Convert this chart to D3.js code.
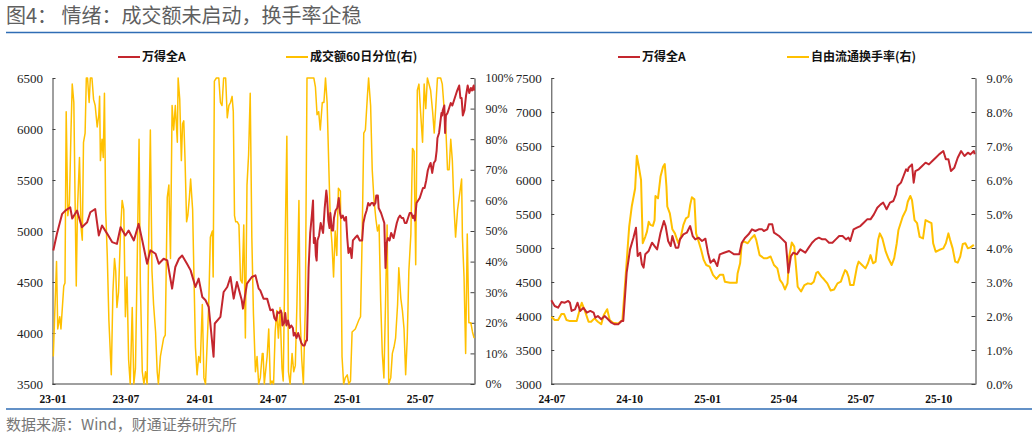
<!doctype html>
<html lang="zh">

<head>
  <meta charset="utf-8">
  <title>图4 情绪：成交额未启动，换手率企稳</title>
  <style>
    body { margin: 0; background: #fff; }
    .cjk { font-family: "Noto Sans CJK SC", "Noto Sans", sans-serif; }
  </style>
</head>

<body>
  <div id="chart"></div>
  <script src="https://cdn.jsdelivr.net/npm/d3@7"></script>
  <script>
    // Data ----------------------------------------------------------------------------------------------------------
    // 万得全A (shared by both panels)
    const wdqaData = [
      ["2023-01-03", 4809], ["2023-01-12", 4973], ["2023-01-25", 5168], ["2023-02-02", 5200], ["2023-02-14", 5233],
      ["2023-02-19", 5122], ["2023-03-03", 5200], ["2023-03-15", 5037], ["2023-03-28", 5086], ["2023-04-05", 5184],
      ["2023-04-17", 5216], ["2023-04-26", 4956], ["2023-05-04", 5054], ["2023-05-17", 4972], ["2023-05-29", 4891],
      ["2023-06-10", 4874], ["2023-06-19", 5037], ["2023-07-01", 4956], ["2023-07-09", 5005], ["2023-07-22", 4907],
      ["2023-08-03", 5070], ["2023-08-12", 4907], ["2023-08-24", 4679], ["2023-09-01", 4810], ["2023-09-14", 4777],
      ["2023-09-22", 4679], ["2023-10-04", 4728], ["2023-10-13", 4712], ["2023-10-25", 4435], ["2023-11-02", 4647],
      ["2023-11-11", 4728], ["2023-11-19", 4760], ["2023-12-01", 4679], ["2023-12-10", 4614], ["2023-12-22", 4451],
      ["2023-12-30", 4533], ["2024-01-08", 4353], ["2024-01-16", 4321], ["2024-01-24", 4255], ["2024-02-05", 3767],
      ["2024-02-08", 4093], ["2024-02-22", 4158], ["2024-03-01", 4402], ["2024-03-10", 4451], ["2024-03-18", 4549],
      ["2024-03-26", 4337], ["2024-04-03", 4500], ["2024-04-15", 4321], ["2024-04-18", 4239], ["2024-04-28", 4484],
      ["2024-05-10", 4549], ["2024-05-19", 4565], ["2024-05-27", 4435], ["2024-05-31", 4418], ["2024-06-08", 4337],
      ["2024-06-17", 4337], ["2024-06-25", 4223],
      ["2024-07-01", 4230], ["2024-07-05", 4147], ["2024-07-09", 4122], ["2024-07-13", 4206], ["2024-07-17", 4196],
      ["2024-07-21", 4221], ["2024-07-23", 4196], ["2024-07-25", 4074], ["2024-07-29", 4098], ["2024-08-01", 4196],
      ["2024-08-04", 4074], ["2024-08-08", 4122], ["2024-08-12", 4049], ["2024-08-16", 4074], ["2024-08-20", 4049],
      ["2024-08-22", 3975], ["2024-08-25", 4000], ["2024-08-29", 3951], ["2024-09-02", 4000], ["2024-09-06", 3951],
      ["2024-09-10", 3902], ["2024-09-14", 3877], ["2024-09-18", 3877], ["2024-09-22", 3926], ["2024-09-24", 3926],
      ["2024-09-28", 4637], ["2024-10-02", 4980], ["2024-10-06", 5152], ["2024-10-09", 5299], ["2024-10-11", 4882],
      ["2024-10-14", 4931], ["2024-10-16", 4760], ["2024-10-18", 4711], ["2024-10-20", 4907], ["2024-10-24", 4956],
      ["2024-10-28", 5078], ["2024-10-31", 5029], ["2024-11-03", 4980], ["2024-11-07", 5225], ["2024-11-11", 5397],
      ["2024-11-13", 5323], ["2024-11-16", 5103], ["2024-11-19", 5029], ["2024-11-21", 5176], ["2024-11-25", 5005],
      ["2024-11-28", 5005], ["2024-11-30", 5127], ["2024-12-04", 5201], ["2024-12-08", 5225], ["2024-12-12", 5323],
      ["2024-12-15", 5176], ["2024-12-18", 5127], ["2024-12-22", 5152], ["2024-12-26", 5103], ["2024-12-30", 5137],
      ["2025-01-02", 4931], ["2025-01-05", 4784], ["2025-01-09", 4833], ["2025-01-13", 4735], ["2025-01-16", 4907],
      ["2025-01-21", 4931], ["2025-01-27", 4956], ["2025-02-02", 4907], ["2025-02-08", 4907], ["2025-02-11", 5078],
      ["2025-02-15", 5152], ["2025-02-19", 5201], ["2025-02-23", 5274], ["2025-02-27", 5250], ["2025-03-03", 5274],
      ["2025-03-07", 5274], ["2025-03-09", 5250], ["2025-03-13", 5274], ["2025-03-15", 5348], ["2025-03-19", 5348],
      ["2025-03-21", 5225], ["2025-03-27", 5176], ["2025-03-31", 5127], ["2025-04-04", 5078], ["2025-04-07", 4637],
      ["2025-04-10", 4882], ["2025-04-13", 4931], ["2025-04-17", 4907], ["2025-04-21", 4980], ["2025-04-27", 4931],
      ["2025-05-01", 5005], ["2025-05-05", 5078], ["2025-05-09", 5127], ["2025-05-13", 5152], ["2025-05-17", 5127],
      ["2025-05-21", 5127], ["2025-05-25", 5078], ["2025-05-29", 5078], ["2025-06-02", 5127], ["2025-06-06", 5176],
      ["2025-06-10", 5176], ["2025-06-14", 5127], ["2025-06-17", 5152], ["2025-06-19", 5103], ["2025-06-23", 5274],
      ["2025-06-27", 5299], ["2025-07-01", 5323], ["2025-07-05", 5372], ["2025-07-09", 5421], ["2025-07-13", 5421],
      ["2025-07-17", 5495], ["2025-07-21", 5593], ["2025-07-25", 5642], ["2025-07-28", 5667], ["2025-08-01", 5569],
      ["2025-08-05", 5667], ["2025-08-09", 5691], ["2025-08-12", 5789], ["2025-08-14", 5912], ["2025-08-18", 5961],
      ["2025-08-21", 6059], ["2025-08-24", 6157], ["2025-08-26", 6132], ["2025-08-27", 6181], ["2025-08-31", 6230],
      ["2025-09-02", 5961], ["2025-09-04", 6132], ["2025-09-08", 6157], ["2025-09-12", 6206], ["2025-09-16", 6255],
      ["2025-09-20", 6230], ["2025-09-24", 6279], ["2025-09-28", 6328], ["2025-10-02", 6377], ["2025-10-07", 6426],
      ["2025-10-10", 6304], ["2025-10-13", 6304], ["2025-10-16", 6132], ["2025-10-20", 6181], ["2025-10-24", 6328],
      ["2025-10-28", 6426], ["2025-11-01", 6353], ["2025-11-05", 6402], ["2025-11-08", 6377], ["2025-11-12", 6426],
      ["2025-11-13", 6377]
    ];

    // 成交额60日分位 (%)
    const amountPctData = [
      ["2023-01-03", 9], ["2023-01-11", 40], ["2023-01-14", 18], ["2023-01-19", 22], ["2023-01-22", 18],
      ["2023-01-29", 32], ["2023-02-01", 33], ["2023-02-04", 89], ["2023-02-08", 55], ["2023-02-12", 59],
      ["2023-02-16", 83], ["2023-02-19", 98], ["2023-02-23", 92], ["2023-02-26", 61], ["2023-03-01", 32],
      ["2023-03-04", 57], ["2023-03-09", 74], ["2023-03-13", 51], ["2023-03-16", 47], ["2023-03-19", 79],
      ["2023-03-23", 82], ["2023-03-26", 100], ["2023-03-29", 100], ["2023-04-02", 92], ["2023-04-05", 100],
      ["2023-04-09", 100], ["2023-04-13", 93], ["2023-04-17", 91], ["2023-04-22", 84], ["2023-04-26", 88],
      ["2023-04-28", 94], ["2023-04-30", 73], ["2023-05-04", 80], ["2023-05-07", 74], ["2023-05-10", 95],
      ["2023-05-13", 57], ["2023-05-17", 42], ["2023-05-21", 21], ["2023-05-25", 9], ["2023-05-27", 3],
      ["2023-05-31", 30], ["2023-06-04", 41], ["2023-06-07", 37], ["2023-06-10", 25], ["2023-06-14", 30],
      ["2023-06-19", 50], ["2023-06-23", 60], ["2023-06-27", 57], ["2023-07-01", 22], ["2023-07-05", 35],
      ["2023-07-09", 8], ["2023-07-13", 0], ["2023-07-18", 25], ["2023-07-22", 0], ["2023-07-26", 5],
      ["2023-07-30", 37], ["2023-08-04", 80], ["2023-08-07", 34], ["2023-08-12", 4], ["2023-08-16", 0],
      ["2023-08-20", 4], ["2023-08-24", 0], ["2023-08-28", 48], ["2023-09-01", 83], ["2023-09-05", 37],
      ["2023-09-09", 26], ["2023-09-14", 17], ["2023-09-18", 4], ["2023-09-21", 0], ["2023-09-26", 9],
      ["2023-10-04", 15], ["2023-10-08", 16], ["2023-10-13", 61], ["2023-10-17", 65], ["2023-10-21", 41],
      ["2023-10-25", 91], ["2023-10-29", 83], ["2023-11-02", 91], ["2023-11-07", 79], ["2023-11-09", 100],
      ["2023-11-13", 93], ["2023-11-17", 73], ["2023-11-20", 85], ["2023-11-23", 86], ["2023-11-26", 74],
      ["2023-11-30", 53], ["2023-12-03", 55], ["2023-12-07", 61], ["2023-12-10", 67], ["2023-12-15", 57],
      ["2023-12-18", 37], ["2023-12-22", 12], ["2023-12-26", 3], ["2023-12-30", 9], ["2024-01-03", 7],
      ["2024-01-08", 26], ["2024-01-12", 2], ["2024-01-16", 0], ["2024-01-20", 13], ["2024-01-24", 26],
      ["2024-01-28", 48], ["2024-02-02", 50], ["2024-02-04", 35], ["2024-02-07", 99], ["2024-02-12", 100],
      ["2024-02-18", 100], ["2024-02-22", 92], ["2024-02-26", 91], ["2024-03-01", 100], ["2024-03-06", 100],
      ["2024-03-10", 87], ["2024-03-14", 91], ["2024-03-18", 92], ["2024-03-22", 94], ["2024-03-25", 89],
      ["2024-03-28", 55], ["2024-03-31", 53], ["2024-04-04", 53], ["2024-04-08", 52], ["2024-04-12", 34],
      ["2024-04-16", 33], ["2024-04-20", 52], ["2024-04-24", 15], ["2024-04-28", 65], ["2024-05-02", 75],
      ["2024-05-06", 95], ["2024-05-10", 48], ["2024-05-14", 23], ["2024-05-19", 4], ["2024-05-23", 9],
      ["2024-05-27", 0], ["2024-05-31", 2], ["2024-06-05", 10], ["2024-06-07", 10], ["2024-06-10", 0],
      ["2024-06-17", 9], ["2024-06-21", 18], ["2024-06-25", 0], ["2024-06-29", 1], ["2024-07-03", 0],
      ["2024-07-07", 17], ["2024-07-11", 24], ["2024-07-15", 15], ["2024-07-19", 25], ["2024-07-24", 5],
      ["2024-07-27", 1], ["2024-08-01", 48], ["2024-08-05", 81], ["2024-08-09", 4], ["2024-08-13", 0],
      ["2024-08-18", 10], ["2024-08-22", 4], ["2024-08-26", 6], ["2024-08-30", 26], ["2024-09-04", 60],
      ["2024-09-07", 22], ["2024-09-11", 8], ["2024-09-15", 0], ["2024-09-20", 26], ["2024-09-24", 100],
      ["2024-10-02", 100], ["2024-10-11", 100], ["2024-10-15", 97], ["2024-10-19", 88], ["2024-10-23", 89],
      ["2024-10-27", 83], ["2024-11-01", 92], ["2024-11-05", 92], ["2024-11-09", 100], ["2024-11-13", 92],
      ["2024-11-17", 72], ["2024-11-21", 53], ["2024-11-25", 46], ["2024-11-29", 35], ["2024-12-03", 50],
      ["2024-12-07", 42], ["2024-12-11", 64], ["2024-12-16", 63], ["2024-12-20", 9], ["2024-12-24", 0],
      ["2024-12-28", 2], ["2025-01-02", 3], ["2025-01-06", 0], ["2025-01-10", 1], ["2025-01-14", 17],
      ["2025-01-22", 18], ["2025-01-31", 21], ["2025-02-04", 22], ["2025-02-08", 48], ["2025-02-12", 82],
      ["2025-02-16", 83], ["2025-02-21", 94], ["2025-02-24", 100], ["2025-03-01", 91], ["2025-03-05", 70],
      ["2025-03-09", 61], ["2025-03-14", 54], ["2025-03-18", 50], ["2025-03-22", 52], ["2025-03-26", 27],
      ["2025-03-30", 10], ["2025-04-03", 2], ["2025-04-07", 26], ["2025-04-11", 52], ["2025-04-15", 0],
      ["2025-04-20", 2], ["2025-04-24", 10], ["2025-04-28", 12], ["2025-05-02", 15], ["2025-05-07", 26],
      ["2025-05-10", 38], ["2025-05-15", 28], ["2025-05-19", 24], ["2025-05-23", 18], ["2025-05-27", 3],
      ["2025-05-31", 15], ["2025-06-04", 37], ["2025-06-09", 49], ["2025-06-13", 77], ["2025-06-17", 76],
      ["2025-06-21", 39], ["2025-06-25", 96], ["2025-06-29", 98], ["2025-07-03", 89], ["2025-07-08", 79],
      ["2025-07-12", 98], ["2025-07-16", 90], ["2025-07-20", 100], ["2025-07-24", 98], ["2025-07-28", 96],
      ["2025-08-02", 89], ["2025-08-06", 82], ["2025-08-10", 91], ["2025-08-14", 100], ["2025-08-22", 100],
      ["2025-08-26", 98], ["2025-08-30", 91], ["2025-09-04", 83], ["2025-09-08", 70], ["2025-09-12", 70],
      ["2025-09-16", 80], ["2025-09-20", 73], ["2025-09-24", 58], ["2025-09-28", 48], ["2025-10-03", 57],
      ["2025-10-07", 61], ["2025-10-13", 67], ["2025-10-15", 48], ["2025-10-19", 35], ["2025-10-23", 10],
      ["2025-10-27", 49], ["2025-10-31", 20], ["2025-11-05", 20], ["2025-11-09", 17], ["2025-11-13", 15]
    ];

    // 自由流通换手率 (%)
    const freeTurnoverData = [
      ["2024-07-01", 1.98], ["2024-07-05", 1.88], ["2024-07-09", 1.88], ["2024-07-13", 2.06], ["2024-07-16", 2.06],
      ["2024-07-19", 1.88], ["2024-07-23", 1.85], ["2024-07-31", 1.85], ["2024-08-04", 2.23], ["2024-08-06", 2.39],
      ["2024-08-10", 2.13], ["2024-08-14", 1.83], ["2024-08-17", 1.83], ["2024-08-21", 1.93], ["2024-08-25", 1.83],
      ["2024-08-29", 1.76], ["2024-09-01", 2.03], ["2024-09-05", 2.20], ["2024-09-08", 1.88], ["2024-09-12", 1.80],
      ["2024-09-18", 1.78], ["2024-09-23", 1.88], ["2024-09-27", 3.25], ["2024-10-01", 4.63], ["2024-10-04", 5.22],
      ["2024-10-08", 5.75], ["2024-10-10", 6.71], ["2024-10-12", 6.44], ["2024-10-15", 6.00], ["2024-10-17", 4.14],
      ["2024-10-20", 4.33], ["2024-10-22", 4.48], ["2024-10-24", 4.77], ["2024-10-26", 4.68], ["2024-10-29", 4.65],
      ["2024-10-31", 4.82], ["2024-11-01", 5.53], ["2024-11-04", 5.46], ["2024-11-07", 6.10], ["2024-11-10", 6.39],
      ["2024-11-12", 6.47], ["2024-11-14", 5.80], ["2024-11-15", 5.22], ["2024-11-18", 5.02], ["2024-11-21", 4.55],
      ["2024-11-24", 4.43], ["2024-11-28", 4.14], ["2024-12-01", 4.33], ["2024-12-04", 4.68], ["2024-12-07", 4.87],
      ["2024-12-10", 4.92], ["2024-12-12", 5.26], ["2024-12-14", 5.49], ["2024-12-17", 5.43], ["2024-12-19", 4.43],
      ["2024-12-22", 4.19], ["2024-12-25", 3.94], ["2024-12-28", 3.65], ["2024-12-31", 3.50], ["2025-01-04", 3.45],
      ["2025-01-08", 3.21], ["2025-01-12", 3.09], ["2025-01-16", 3.21], ["2025-01-20", 3.21], ["2025-01-22", 3.01],
      ["2025-01-28", 2.98], ["2025-02-05", 2.98], ["2025-02-06", 3.25], ["2025-02-09", 3.55], ["2025-02-11", 4.14],
      ["2025-02-14", 4.19], ["2025-02-18", 4.14], ["2025-02-22", 4.28], ["2025-02-26", 4.38], ["2025-02-28", 4.24],
      ["2025-03-04", 3.79], ["2025-03-09", 3.70], ["2025-03-13", 3.70], ["2025-03-17", 3.75], ["2025-03-21", 3.50],
      ["2025-03-25", 3.40], ["2025-03-28", 3.06], ["2025-03-31", 2.96], ["2025-04-03", 2.78], ["2025-04-06", 2.96],
      ["2025-04-08", 3.75], ["2025-04-11", 4.16], ["2025-04-14", 4.04], ["2025-04-16", 3.45], ["2025-04-18", 2.86],
      ["2025-04-22", 2.72], ["2025-04-26", 2.91], ["2025-04-30", 2.96], ["2025-05-04", 2.94], ["2025-05-07", 3.01],
      ["2025-05-10", 3.27], ["2025-05-12", 3.30], ["2025-05-16", 3.16], ["2025-05-19", 3.08], ["2025-05-23", 2.96],
      ["2025-05-27", 2.75], ["2025-05-31", 2.78], ["2025-06-04", 2.96], ["2025-06-08", 3.01], ["2025-06-10", 3.16],
      ["2025-06-13", 3.35], ["2025-06-15", 3.30], ["2025-06-17", 3.16], ["2025-06-19", 2.91], ["2025-06-23", 2.91],
      ["2025-06-27", 3.45], ["2025-06-29", 3.60], ["2025-07-03", 3.50], ["2025-07-07", 3.40], ["2025-07-10", 3.55],
      ["2025-07-13", 3.79], ["2025-07-16", 3.55], ["2025-07-19", 3.60], ["2025-07-22", 4.24], ["2025-07-24", 4.43],
      ["2025-07-27", 4.28], ["2025-07-31", 3.89], ["2025-08-03", 3.70], ["2025-08-07", 3.50], ["2025-08-10", 3.70],
      ["2025-08-13", 4.14], ["2025-08-15", 4.53], ["2025-08-20", 4.92], ["2025-08-24", 5.12], ["2025-08-26", 5.36],
      ["2025-08-29", 5.53], ["2025-08-31", 5.41], ["2025-09-03", 4.82], ["2025-09-06", 4.73], ["2025-09-09", 4.33],
      ["2025-09-13", 4.28], ["2025-09-16", 4.82], ["2025-09-20", 4.77], ["2025-09-23", 4.73], ["2025-09-25", 4.14],
      ["2025-09-28", 3.89], ["2025-10-02", 3.94], ["2025-10-07", 3.99], ["2025-10-10", 4.14], ["2025-10-13", 4.43],
      ["2025-10-15", 4.24], ["2025-10-18", 3.99], ["2025-10-21", 3.60], ["2025-10-24", 3.57], ["2025-10-27", 3.75],
      ["2025-10-30", 4.12], ["2025-11-02", 4.14], ["2025-11-05", 3.99], ["2025-11-08", 4.02], ["2025-11-12", 4.09]
    ];

    // Ticks and labels
    const leftIndexTicks = [3500, 4000, 4500, 5000, 5500, 6000, 6500];
    const leftPctTicks = [0, 10, 20, 30, 40, 50, 60, 70, 80, 90, 100];
    const rightIndexTicks = [3000, 3500, 4000, 4500, 5000, 5500, 6000, 6500, 7000, 7500];
    const rightTurnoverTicks = [0, 1, 2, 3, 4, 5, 6, 7, 8, 9];
    const leftDateTicks = ["2023-01-01", "2023-07-01", "2024-01-01", "2024-07-01", "2025-01-01", "2025-07-01"];
    const rightDateTicks = ["2024-07-01", "2024-10-01", "2025-01-01", "2025-04-01", "2025-07-01", "2025-10-01"];

    const titleText = "图4： 情绪：成交额未启动，换手率企稳";
    const sourceText = "数据来源：Wind，财通证券研究所";

    // Canvas --------------------------------------------------------------------------------------------------------
    const width = 1032;
    const height = 438;
    const plotTop = 78;
    const plotBottom = 384;
    const red = "#c4262e";
    const yellow = "#ffc000";
    const blue = "#2f6db5";
    const numFont = "'Liberation Serif', 'Times New Roman', serif";

    const parseDate = d3.timeParse("%Y-%m-%d");
    const toPoints = rows => rows.map(([d, v]) => ({ date: parseDate(d), value: v }));

    const wdqa = toPoints(wdqaData);
    const amountPct = toPoints(amountPctData);
    const freeTurnover = toPoints(freeTurnoverData);

    const svg = d3.select("#chart")
      .append("svg")
      .attr("width", width)
      .attr("height", height)
      .attr("viewBox", [0, 0, width, height]);

    // Header and footer ---------------------------------------------------------------------------------------------
    svg.append("text")
      .attr("class", "cjk")
      .attr("x", 6)
      .attr("y", 23)
      .style("font-size", "20px")
      .style("fill", "#5f5f5f")
      .text(titleText);

    svg.append("line")
      .attr("x1", 6).attr("x2", width)
      .attr("y1", 32.5).attr("y2", 32.5)
      .style("stroke", blue)
      .style("stroke-width", 1.5);

    svg.append("line")
      .attr("x1", 6).attr("x2", width)
      .attr("y1", 409).attr("y2", 409)
      .style("stroke", blue)
      .style("stroke-width", 1.5);

    svg.append("text")
      .attr("class", "cjk")
      .attr("x", 6)
      .attr("y", 430)
      .style("font-size", "15px")
      .style("fill", "#777")
      .text(sourceText);

    // Panel renderer ------------------------------------------------------------------------------------------------
    function drawPanel(cfg) {
      const g = svg.append("g");

      const x = d3.scaleTime()
        .domain([parseDate(cfg.start), parseDate("2025-11-14")])
        .range([cfg.left, cfg.right]);

      const yL = d3.scaleLinear()
        .domain(d3.extent(cfg.leftTicks))
        .range([plotBottom, plotTop]);

      const yR = d3.scaleLinear()
        .domain(d3.extent(cfg.rightTicks))
        .range([plotBottom, plotTop]);

      // Axes
      const leftAxis = g.append("g")
        .attr("transform", "translate(" + cfg.left + ",0)")
        .call(d3.axisLeft(yL).tickValues(cfg.leftTicks).tickSizeInner(-3).tickSizeOuter(0).tickPadding(9.5)
          .tickFormat(d3.format("d")));

      const rightAxis = g.append("g")
        .attr("transform", "translate(" + cfg.right + ",0)")
        .call(d3.axisRight(yR).tickValues(cfg.rightTicks).tickSizeInner(-4).tickSizeOuter(0)
          .tickPadding(11).tickFormat(cfg.rightFormat));

      const bottomAxis = g.append("g")
        .attr("transform", "translate(0," + plotBottom + ")")
        .call(d3.axisBottom(x).tickValues(cfg.dateTicks.map(parseDate)).tickSize(0).tickPadding(11)
          .tickFormat(d3.timeFormat("%y-%m")));

      [leftAxis, rightAxis, bottomAxis].forEach(a => {
        a.attr("font-family", null).attr("font-size", null);
        a.selectAll("text").style("font-family", numFont).style("fill", "#222");
        a.selectAll("path, line").style("stroke", "#404040").style("stroke-width", 1);
      });
      leftAxis.selectAll("text").style("font-size", "13px");
      rightAxis.selectAll("text").style("font-size", cfg.rightFontSize);
      bottomAxis.selectAll("text").style("font-size", "11.5px").style("font-weight", "bold").style("fill", "#111");
      bottomAxis.select(".domain").attr("d", "M" + cfg.left + ",0H" + cfg.right);
      rightAxis.select(".domain").style("stroke", cfg.rightAxisColor).style("stroke-width", cfg.rightAxisWidth);

      // Series
      const lineR = d3.line().x(d => x(d.date)).y(d => yR(d.value));
      const lineL = d3.line().x(d => x(d.date)).y(d => yL(d.value));

      g.append("path")
        .datum(cfg.rightSeries)
        .attr("d", lineR)
        .style("fill", "none")
        .style("stroke", yellow)
        .style("stroke-width", cfg.yellowWidth)
        .style("stroke-linejoin", "round");

      g.append("path")
        .datum(wdqa.filter(d => d.date >= parseDate(cfg.start)))
        .attr("d", lineL)
        .style("fill", "none")
        .style("stroke", red)
        .style("stroke-width", 2)
        .style("stroke-linejoin", "round");

      // Legend
      const legend = [
        { label: "万得全A", color: red, x: cfg.legendX[0] },
        { label: cfg.rightLabel, color: yellow, x: cfg.legendX[1] }
      ];
      legend.forEach(item => {
        g.append("line")
          .attr("x1", item.x).attr("x2", item.x + 22)
          .attr("y1", 57).attr("y2", 57)
          .style("stroke", item.color)
          .style("stroke-width", 2);
        g.append("text")
          .attr("class", "cjk")
          .attr("x", item.x + 24)
          .attr("y", 57)
          .attr("dy", "0.36em")
          .style("font-size", "12px")
          .style("font-weight", "bold")
          .style("fill", "#111")
          .text(item.label);
      });
    }

    // Left panel: 万得全A vs 成交额60日分位 -----------------------------------------------------------------------------
    drawPanel({
      start: "2023-01-01",
      left: 52.5,
      right: 474.5,
      leftTicks: leftIndexTicks,
      rightTicks: leftPctTicks,
      rightFormat: d => d + "%",
      rightFontSize: "12px",
      rightAxisColor: "#8a8a8a",
      rightAxisWidth: 1.8,
      dateTicks: leftDateTicks,
      rightSeries: amountPct,
      rightLabel: "成交额60日分位(右)",
      yellowWidth: 1.5,
      legendX: [118, 286]
    });

    // Right panel: 万得全A vs 自由流通换手率 ----------------------------------------------------------------------------
    drawPanel({
      start: "2024-07-01",
      left: 551.3,
      right: 975.5,
      leftTicks: rightIndexTicks,
      rightTicks: rightTurnoverTicks,
      rightFormat: d => d.toFixed(1) + "%",
      rightFontSize: "12.5px",
      rightAxisColor: "#404040",
      rightAxisWidth: 1,
      dateTicks: rightDateTicks,
      rightSeries: freeTurnover,
      rightLabel: "自由流通换手率(右)",
      yellowWidth: 2,
      legendX: [618, 787]
    });
  </script>
</body>

</html>
